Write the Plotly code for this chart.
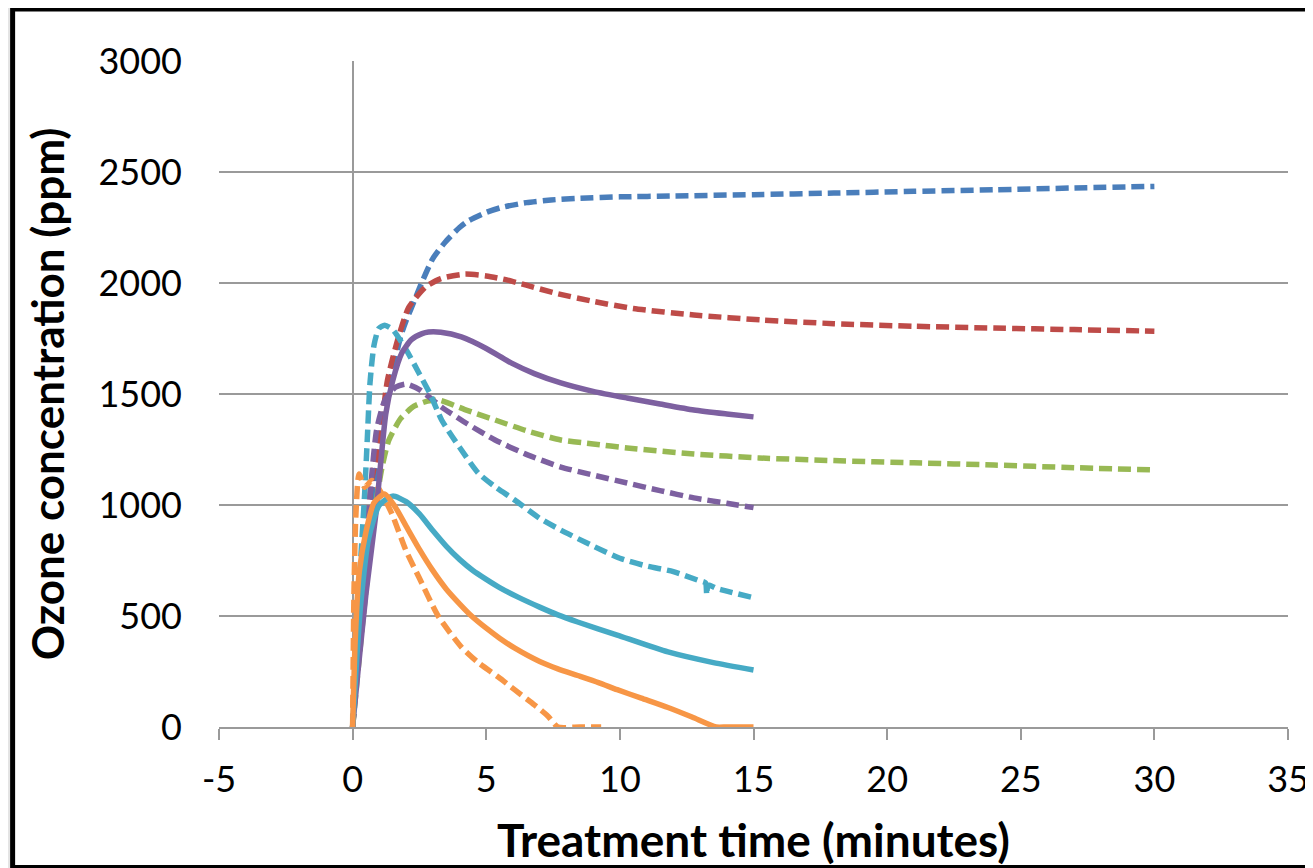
import plotly.graph_objects as go

# values (minutes, ppm)
blue_dash_t = [0, 0.3, 0.6, 1.0, 1.4, 1.8, 2.0, 2.36, 2.58, 3.0, 3.47, 4.0, 4.33, 5.0, 5.56, 6.5,
               7.42, 8.5, 10, 12, 15, 18, 21, 24, 27, 30]
blue_dash_o3 = [0, 450, 850, 1250, 1550, 1760, 1830, 1935, 2000, 2110, 2185, 2250, 2280, 2318, 2340, 2362,
                2374, 2382, 2388, 2392, 2398, 2405, 2413, 2420, 2428, 2435]

red_dash_t = [0, 0.3, 0.7, 1.0, 1.3, 1.7, 2.1, 2.73, 3.3, 4.2, 5.0, 5.8, 6.5, 7.56, 9.05, 10.5,
              12.77, 15.37, 18, 21, 24, 27, 30]
red_dash_o3 = [0, 500, 1100, 1280, 1560, 1750, 1890, 1982, 2020, 2040, 2032, 2013, 1990, 1955, 1916, 1885,
               1856, 1833, 1817, 1805, 1797, 1790, 1783]

green_dash_t = [0, 0.4, 0.8, 1.1, 1.35, 1.8, 2.3, 2.8, 3.22, 4.2, 5.33, 6.5, 7.79, 9, 10.27, 12.77,
                15.2, 18, 21, 24, 27, 30]
green_dash_o3 = [0, 500, 950, 1170, 1290, 1390, 1445, 1468, 1473, 1430, 1383, 1335, 1293, 1275, 1257, 1230,
                 1212, 1200, 1190, 1180, 1168, 1158]

purple_dash_t = [0, 0.3, 0.72, 0.9, 1.2, 1.6, 2.0, 2.5, 3.33, 4.3, 5.33, 6.5, 7.79, 9, 10.27, 11.5,
                 12.77, 14, 15]
purple_dash_o3 = [0, 500, 1140, 1340, 1470, 1530, 1545, 1520, 1441, 1365, 1293, 1228, 1171, 1135, 1099, 1065,
                  1032, 1008, 988]

cyan_dash_t = [0, 0.15, 0.3, 0.45, 0.55, 0.65, 0.8, 0.98, 1.2, 1.5, 2.0, 2.5, 2.9, 3.33, 4.0, 4.7, 5.3,
               6.07, 7.0, 7.79, 9, 10, 11, 12, 12.9, 13.2, 13.25, 13.3, 13.6, 14, 15]
cyan_dash_o3 = [0, 400, 750, 1050, 1300, 1550, 1720, 1795, 1810, 1790, 1700, 1590, 1500, 1383, 1260, 1144,
                1085, 1022, 940, 887, 815, 760, 725, 700, 662, 650, 595, 640, 625, 612, 582]

orange_dash_t = [0, 0.05, 0.12, 0.24, 0.45, 0.72, 1.0, 1.47, 1.99, 2.5, 3.2, 4.07, 4.7, 5.45, 6.07,
                 6.8, 7.3, 7.68, 8.5, 9.3]
orange_dash_o3 = [0, 600, 950, 1140, 1080, 1110, 1070, 960, 797, 670, 500, 360, 290, 225, 167,
                  100, 50, 0, 0, 0]

purple_t = [0, 0.2, 0.5, 0.87, 1.24, 1.5, 1.84, 2.2, 2.6, 2.84, 3.3, 4.07, 5, 5.93, 6.8, 7.79, 9,
            10.27, 11.5, 12.77, 14, 15]
purple_o3 = [0, 250, 600, 960, 1410, 1560, 1685, 1745, 1772, 1779, 1778, 1757, 1705, 1640, 1592, 1550, 1512,
             1482, 1455, 1428, 1410, 1397]

cyan_t = [0, 0.15, 0.3, 0.6, 1.0, 1.5, 2.0, 2.5, 3.0, 3.5, 4.0, 4.5, 5, 5.5, 6.19, 7, 7.68, 8.42,
          9.9, 11.8, 13.5, 15]
cyan_o3 = [0, 300, 550, 850, 1000, 1040, 1015, 960, 885, 815, 755, 705, 665, 628, 585, 540, 505, 473,
           414, 338, 290, 257]

orange_t = [0, 0.1, 0.25, 0.5, 0.8, 1.2, 1.6, 2.0, 2.5, 2.97, 3.5, 4.0, 4.45, 5, 5.5, 6.07, 7, 7.68,
            8.42, 9.2, 9.9, 10.8, 11.8, 12.7, 13.6, 14, 15]
orange_o3 = [0, 400, 700, 880, 1010, 1050, 990, 905, 800, 710, 622, 555, 500, 445, 400, 355, 295, 262,
             232, 200, 168, 130, 88, 45, 0, 0, 0]

x_ticks = [-5, 0, 5, 10, 15, 20, 25, 30, 35]
x_labels = ["-5", "0", "5", "10", "15", "20", "25", "30", "35"]
y_ticks = [0, 500, 1000, 1500, 2000, 2500, 3000]

DASH = "13px,6px"
series = [
    (blue_dash_t, blue_dash_o3, "#4A7EBB", DASH),
    (red_dash_t, red_dash_o3, "#BE4B48", DASH),
    (green_dash_t, green_dash_o3, "#98B954", DASH),
    (purple_dash_t, purple_dash_o3, "#7D60A0", DASH),
    (cyan_dash_t, cyan_dash_o3, "#46AAC5", DASH),
    (orange_dash_t, orange_dash_o3, "#F79646", DASH),
    (purple_t, purple_o3, "#7D60A0", "solid"),
    (cyan_t, cyan_o3, "#46AAC5", "solid"),
    (orange_t, orange_o3, "#F79646", "solid"),
]

fig = go.Figure()
for t, o3, col, dash in series:
    fig.add_trace(go.Scatter(x=t, y=o3, mode="lines", showlegend=False,
                             line=dict(color=col, width=5.5, dash=dash, shape="spline", smoothing=0.6)))

# page body adds an 8px offset; plot area in figure pixels
W, H = 1313, 868
L, R, T, B = 211, 1291, 53, 719
def px(x):
    return (x - L) / (R - L)
def py(y):
    return (B - y) / (B - T)

fig.add_shape(type="rect", xref="paper", yref="paper", layer="below",
              x0=px(2.5), x1=px(1345), y0=py(859.5), y1=py(1),
              line=dict(color="black", width=5), fillcolor="white")

fig.update_layout(
    width=W, height=H,
    margin=dict(l=L, r=W - R, t=T, b=H - B),
    paper_bgcolor="#E4E4E4",
    plot_bgcolor="rgba(0,0,0,0)",
    font=dict(family="Lato", color="black"),
    xaxis=dict(range=[-5, 35], tickvals=x_ticks, ticktext=x_labels,
               showgrid=False, zeroline=True, zerolinecolor="#9A9A9A", zerolinewidth=1.5,
               showline=True, linecolor="#9A9A9A", linewidth=1.5,
               ticks="outside", ticklen=11, tickcolor="#9A9A9A", tickwidth=1.5,
               ticklabelstandoff=9, tickfont=dict(size=36),
               title=dict(text="<b>Treatment time (minutes)</b>", font=dict(size=46), standoff=26)),
    yaxis=dict(range=[0, 3000], tickvals=y_ticks,
               showgrid=True, gridcolor="#9A9A9A", gridwidth=1.5, zeroline=False,
               ticks="", ticklabelstandoff=36, tickfont=dict(size=36),
               title=dict(text="<b>Ozone concentration (ppm)</b>", font=dict(size=44), standoff=20)),
)

fig.write_html("out.html")
